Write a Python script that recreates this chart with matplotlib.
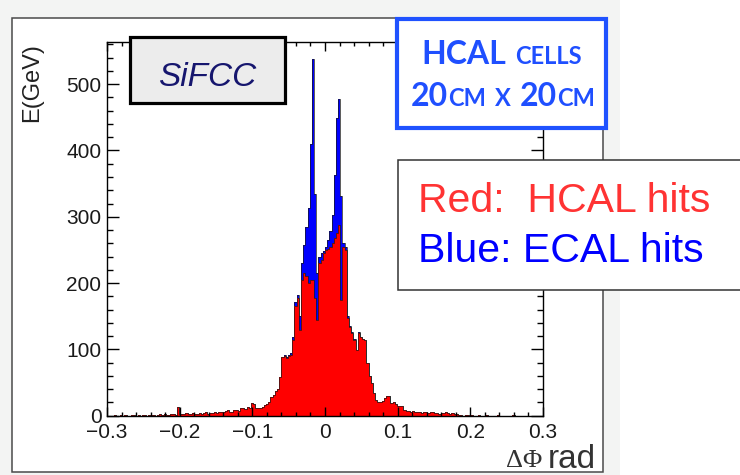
import matplotlib
matplotlib.use("Agg")
import matplotlib.pyplot as plt
from matplotlib.patches import Rectangle
import numpy as np

plt.rcParams['font.family'] = ['Liberation Sans', 'DejaVu Sans']

W, H = 740, 475

# histogram range / binning (200 bins, -0.3 .. 0.3 rad)
phi_min, phi_max, n_bins = -0.3, 0.3, 200

# energy per bin, HCAL hits (red)
hcal_e = [
    0, 0, 0, 1, 0, 0, 1, 0, 1, 0, 0, 1, 1, 0, 1, 0, 1, 1, 0, 1,
    1, 1, 0, 1, 2, 1, 2, 1, 1, 2, 2, 1, 13, 3, 2, 3, 4, 3, 2, 4,
    3, 3, 4, 3, 4, 5, 3, 4, 4, 5, 4, 5, 6, 5, 7, 9, 6, 6, 8, 9,
    7, 11, 12, 10, 13, 12, 19, 18, 12, 11, 12, 13, 16, 17, 21, 28, 31, 37, 40, 58,
    88, 90, 87, 90, 92, 114, 165, 177, 129, 204, 215, 210, 200, 204, 205, 178, 144, 230, 235, 245,
    250, 252, 255, 260, 268, 275, 287, 174, 255, 250, 147, 134, 125, 114, 99, 125, 119, 116, 114, 79,
    60, 49, 34, 24, 21, 20, 22, 27, 30, 29, 19, 20, 18, 15, 14, 15, 8, 7, 7, 6,
    7, 5, 5, 6, 4, 5, 5, 4, 5, 5, 4, 4, 3, 4, 4, 5, 4, 3, 4, 3,
    2, 1, 1, 0, 1, 1, 0, 1, 0, 0, 1, 0, 0, 0, 1, 0, 0, 0, 0, 1,
    0, 0, 0, 0, 0, 0, 1, 0, 0, 0, 0, 0, 0, 0, 0, 0, 0, 0, 0, 0,
]

# energy per bin, ECAL hits (blue, stacked on top of HCAL)
ecal_e = [0] * 80 + [
    0, 1, 1, 2, 2, 4, 7, 5, 21, 26, 42, 75, 113, 206, 333, 157, 71, 10, 10, 3,
    5, 13, 23, 42, 95, 174, 191, 158, 5, 5, 3, 2, 1, 1, 0, 1, 0, 0, 0, 0,
] + [0] * 80

x_ticks = [-0.3, -0.2, -0.1, 0.0, 0.1, 0.2, 0.3]
x_tick_labels = ['\u22120.3', '\u22120.2', '\u22120.1', '0', '0.1', '0.2', '0.3']
y_ticks = [0, 100, 200, 300, 400, 500]
y_tick_labels = ['0', '100', '200', '300', '400', '500']


def fpos(x, y):
    # pixel (from top-left) -> figure fraction
    return x / W, 1 - y / H


def frect(x0, y0, x1, y1, **kw):
    return Rectangle(fpos(x0, y1), (x1 - x0) / W, (y1 - y0) / H,
                     transform=fig.transFigure, **kw)


def draw_pieces(pieces, cx, base_y, **kw):
    # pieces: (text, fontsize, gap_before_px); centred on cx
    rend = fig.canvas.get_renderer()
    texts = []
    for s, size, gap in pieces:
        t = fig.text(0, 0, s, fontsize=size, ha='left', va='baseline', zorder=6, **kw)
        texts.append((t, gap))
    widths = [t.get_window_extent(rend).width for t, _ in texts]
    total = sum(widths) + sum(g for _, g in texts)
    x = cx - total / 2
    for (t, gap), w in zip(texts, widths):
        x += gap
        t.set_position(fpos(x, base_y))
        x += w


fig = plt.figure(figsize=(W / 100, H / 100), dpi=100)
fig.patch.set_facecolor('white')

# slide-ish grey background and ROOT canvas frame
fig.add_artist(frect(0, 0, 620, H, facecolor='#f3f4f3', edgecolor='none', zorder=-10))
fig.add_artist(frect(11.5, 17.5, 603, 472, facecolor='white', edgecolor='#4a4a4a',
                     linewidth=1.1, zorder=-9))

ax = fig.add_axes([107 / W, 1 - 415.7 / H, 436 / W, 374 / H])
ax.patch.set_facecolor('white')

edges = np.linspace(phi_min, phi_max, n_bins + 1)
hcal = np.array(hcal_e, dtype=float)
total = hcal + np.array(ecal_e, dtype=float)

ax.stairs(total, edges, fill=True, facecolor='#0000ff', edgecolor='none')
ax.stairs(total, edges, color='#1a1a1a', linewidth=0.5)
ax.stairs(hcal, edges, fill=True, facecolor='#ff0000', edgecolor='none')
ax.stairs(hcal, edges, color='#1a1a1a', linewidth=0.5)

ax.set_xlim(phi_min, phi_max)
ax.set_ylim(0, 564)

ax.set_xticks(x_ticks)
ax.set_xticklabels(x_tick_labels, fontsize=15, color='#1a1a1a')
ax.set_yticks(y_ticks)
ax.set_yticklabels(y_tick_labels, fontsize=15, color='#1a1a1a')
ax.set_xticks(np.arange(-0.3, 0.3001, 0.02), minor=True)
ax.set_yticks(np.arange(0, 561, 20), minor=True)

ax.tick_params(which='both', direction='in', top=True, right=True, width=1.0, color='black')
ax.tick_params(axis='x', which='major', length=6.5, pad=5)
ax.tick_params(axis='x', which='minor', length=3.2)
ax.tick_params(axis='y', which='major', length=8.6, pad=4)
ax.tick_params(axis='y', which='minor', length=4.3)
for sp in ax.spines.values():
    sp.set_linewidth(1.0)
    sp.set_color('black')

# axis titles
fig.text(*fpos(32, 43), 'E(GeV)', rotation=90, ha='center', va='top',
         fontsize=17, color='#222222')
fig.text(*fpos(596, 468), 'rad', ha='right', va='baseline', fontsize=24, color='#333333')
fig.text(*fpos(542, 467), '\u0394\u03a6', ha='right', va='baseline', fontsize=19,
         color='#333333', family=['Liberation Serif', 'DejaVu Serif'])

# SiFCC label box
fig.add_artist(frect(130, 37, 285, 103, facecolor='#ececec', edgecolor='black',
                     linewidth=2.3, zorder=5))
fig.text(*fpos(207.5, 86), 'SiFCC', ha='center', va='baseline', fontsize=24,
         style='italic', color='#16166e', zorder=6)

# HCAL cell size box (small caps faked with two sizes)
fig.add_artist(frect(397, 18.5, 606, 128, facecolor='white', edgecolor='#1f52ff',
                     linewidth=3.0, zorder=5))
hcal_kw = dict(color='#1f4fff', weight='bold', family=['Lato', 'DejaVu Sans'])
draw_pieces([('HCAL', 23, 0), ('CELLS', 17, 9)], 502, 63.5, **hcal_kw)
draw_pieces([('20', 23, 0), ('CM', 17, 0), ('X', 17, 9), ('20', 23, 9), ('CM', 17, 0)],
            503, 106, **hcal_kw)

# colour key box
fig.add_artist(frect(397.5, 160, 760, 290, facecolor='white', edgecolor='#333333',
                     linewidth=1.1, zorder=5))
fig.text(*fpos(418, 211.5), 'Red:  HCAL hits', ha='left', va='baseline', fontsize=29.5,
         color='#ff3333', zorder=6)
fig.text(*fpos(418, 261.5), 'Blue: ECAL hits', ha='left', va='baseline', fontsize=29.5,
         color='#0000ff', zorder=6)

fig.savefig('out.png', dpi=100)
